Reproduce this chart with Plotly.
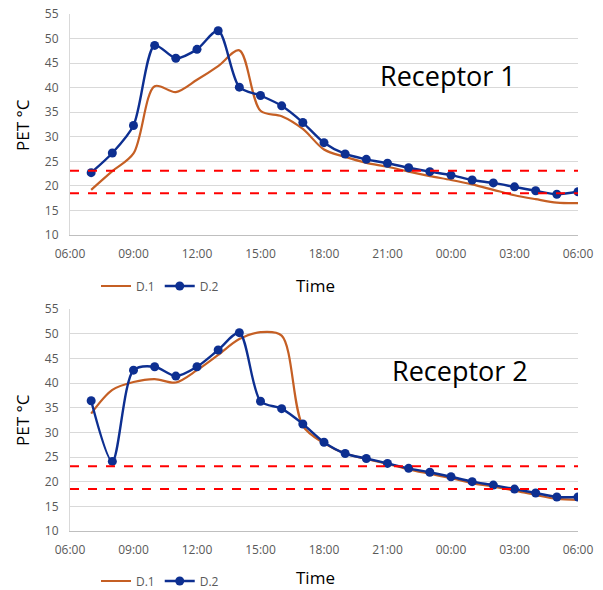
import plotly.graph_objects as go

hours = list(range(7, 31))  # 07:00 .. 06:00 next day
tick_vals = [6, 9, 12, 15, 18, 21, 24, 27, 30]
tick_text = ["06:00", "09:00", "12:00", "15:00", "18:00", "21:00", "00:00", "03:00", "06:00"]
y_ticks = [10, 15, 20, 25, 30, 35, 40, 45, 50, 55]

r1_d1 = [19.2, 23.0, 26.6, 40.3, 39.1, 41.6, 44.4, 47.6, 35.3, 34.2, 31.6, 27.4,
         25.9, 24.7, 23.9, 22.9, 22.0, 21.2, 20.3, 19.2, 18.1, 17.3, 16.6, 16.5]
r1_d2 = [22.7, 26.7, 32.3, 48.6, 46.0, 47.8, 51.6, 40.1, 38.4, 36.3, 32.9, 28.8,
         26.5, 25.4, 24.6, 23.7, 22.9, 22.2, 21.2, 20.6, 19.8, 19.0, 18.3, 18.8]
r2_d1 = [33.8, 38.6, 40.2, 40.8, 40.1, 42.6, 45.7, 48.9, 50.3, 49.6, 31.3, 27.8,
         25.7, 24.6, 23.6, 22.5, 21.6, 20.7, 19.7, 19.0, 18.2, 17.3, 16.5, 16.3]
r2_d2 = [36.4, 24.1, 42.6, 43.3, 41.4, 43.3, 46.7, 50.2, 36.3, 34.8, 31.7, 28.0,
         25.7, 24.7, 23.7, 22.7, 21.9, 21.0, 20.0, 19.3, 18.5, 17.7, 16.9, 16.9]
comfort_upper = 23.1
comfort_lower = 18.5

ORANGE = "#c55f24"
BLUE = "#0d2f91"
FONT = "Open Sans"

fig = go.Figure()

def add_pair(d1, d2, xa, ya, leg):
    fig.add_trace(go.Scatter(x=hours, y=d1, name="D.1", mode="lines",
                             line=dict(color=ORANGE, width=2.2, shape="spline", smoothing=0.9),
                             xaxis=xa, yaxis=ya, legend=leg))
    fig.add_trace(go.Scatter(x=hours, y=d2, name="D.2", mode="lines+markers",
                             line=dict(color=BLUE, width=2.4, shape="spline", smoothing=0.8),
                             marker=dict(color=BLUE, size=9),
                             xaxis=xa, yaxis=ya, legend=leg))

add_pair(r1_d1, r1_d2, "x", "y", "legend")
add_pair(r2_d1, r2_d2, "x2", "y2", "legend2")

xd = [70 / 603, 578 / 603]
xcommon = dict(range=[6, 30], tickvals=tick_vals, ticktext=tick_text, showgrid=False,
               zeroline=False, showline=True, linecolor="#bfbfbf", linewidth=1,
               ticks="outside", ticklen=8, tickcolor="rgba(0,0,0,0)", automargin=False,
               tickfont=dict(family=FONT, size=12, color="#595959"), domain=xd)
ycommon = dict(range=[10, 55], tickvals=y_ticks, showgrid=True, gridcolor="#d9d9d9",
               gridwidth=1, zeroline=False, showline=True, linecolor="#d9d9d9",
               ticks="outside", ticklen=8, tickcolor="rgba(0,0,0,0)", automargin=False,
               tickfont=dict(family=FONT, size=12, color="#595959"))

fig.update_layout(
    width=603, height=590, margin=dict(l=0, r=0, t=0, b=0, autoexpand=False),
    paper_bgcolor="white", plot_bgcolor="white",
    font=dict(family=FONT),
    xaxis=dict(**xcommon, anchor="y"),
    xaxis2=dict(**xcommon, anchor="y2"),
    yaxis=dict(**ycommon, domain=[1 - 235 / 590, 1 - 14 / 590], anchor="x"),
    yaxis2=dict(**ycommon, domain=[1 - 531 / 590, 1 - 309 / 590], anchor="x2"),
    legend=dict(orientation="h", x=96 / 603, xanchor="left", y=1 - 286 / 590, yanchor="middle",
                font=dict(family=FONT, size=12, color="#595959"), bgcolor="rgba(0,0,0,0)",
                itemwidth=30),
    legend2=dict(orientation="h", x=96 / 603, xanchor="left", y=1 - 581 / 590, yanchor="middle",
                 font=dict(family=FONT, size=12, color="#595959"), bgcolor="rgba(0,0,0,0)",
                 itemwidth=30),
    showlegend=True,
)

for yr, val in [("y", comfort_upper), ("y", comfort_lower), ("y2", comfort_upper), ("y2", comfort_lower)]:
    xr = "x domain" if yr == "y" else "x2 domain"
    fig.add_shape(type="line", xref=xr, yref=yr, x0=0, x1=1, y0=val, y1=val,
                  line=dict(color="#ff0000", width=2, dash="dash"), layer="above")

annotations = [
    dict(text="Receptor 1", x=448 / 603, y=1 - 75 / 590, font=dict(size=27, color="#000000")),
    dict(text="Receptor 2", x=460 / 603, y=1 - 370 / 590, font=dict(size=27, color="#000000")),
    dict(text="Time", x=315 / 603, y=1 - 285 / 590, font=dict(size=17, color="#000000")),
    dict(text="Time", x=315 / 603, y=1 - 577 / 590, font=dict(size=17, color="#000000")),
    dict(text="PET °C", x=22 / 603, y=1 - 125 / 590, textangle=-90, font=dict(size=17, color="#000000")),
    dict(text="PET °C", x=22 / 603, y=1 - 420 / 590, textangle=-90, font=dict(size=17, color="#000000")),
]
for a in annotations:
    fig.add_annotation(xref="paper", yref="paper", showarrow=False, xanchor="center", yanchor="middle",
                       **{k: v for k, v in a.items()})
fig.update_annotations(font_family=FONT)

fig.write_html("out.html")
